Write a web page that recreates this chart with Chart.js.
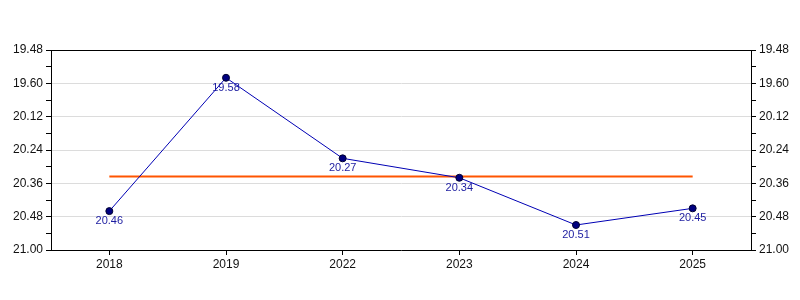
<!DOCTYPE html>
<html>
<head>
<meta charset="utf-8">
<script src="https://cdn.jsdelivr.net/npm/chart.js@4"></script>
<style>
html, body { margin: 0; padding: 0; background: #fff; }
</style>
</head>
<body>
<canvas id="chart" width="800" height="300"></canvas>
<script>
// Temps par année (format minutes.secondes)
var annees = ['2018', '2019', '2022', '2023', '2024', '2025'];
var temps = ['20.46', '19.58', '20.27', '20.34', '20.51', '20.45'];
var ticksY = ['19.48', '19.60', '20.12', '20.24', '20.36', '20.48', '21.00'];

function enSecondes(t) {
  var p = t.split('.');
  return parseInt(p[0], 10) * 60 + parseInt(p[1], 10);
}

var secondes = temps.map(enSecondes);
var moyenne = secondes.reduce(function (a, b) { return a + b; }, 0) / secondes.length;
var ligneMoyenne = secondes.map(function () { return moyenne; });
var minY = enSecondes(ticksY[0]);
var maxY = enSecondes(ticksY[ticksY.length - 1]);
var pasMajeur = (maxY - minY) / (ticksY.length - 1);

var police = '"Liberation Sans", Arial, sans-serif';

function rangMajeur(v) {
  var r = (v - minY) / pasMajeur;
  return Math.abs(r - Math.round(r)) < 1e-6 ? Math.round(r) : -1;
}

// étiquettes de valeur sous les points
var etiquettes = {
  id: 'etiquettes',
  afterDatasetsDraw: function (chart) {
    var meta = chart.getDatasetMeta(0);
    var c = chart.ctx;
    c.save();
    c.font = '11px ' + police;
    c.fillStyle = '#1c1ca0';
    c.textAlign = 'center';
    c.textBaseline = 'middle';
    meta.data.forEach(function (pt, i) {
      c.fillText(temps[i], pt.x, pt.y + 10);
    });
    c.restore();
  }
};

// bord supérieur noir de la zone du graphique
var cadre = {
  id: 'cadre',
  afterDraw: function (chart) {
    var a = chart.chartArea;
    var c = chart.ctx;
    c.save();
    c.strokeStyle = '#000';
    c.lineWidth = 1;
    c.beginPath();
    c.moveTo(a.left, Math.round(a.top) + 0.5);
    c.lineTo(a.right, Math.round(a.top) + 0.5);
    c.stroke();
    c.restore();
  }
};

function axeY(position, grille) {
  return {
    type: 'linear',
    position: position,
    reverse: true,
    min: minY,
    max: maxY,
    afterFit: function (scale) { scale.width = position === 'left' ? 51 : 49; },
    border: { display: true, color: '#000', width: 1 },
    grid: {
      drawOnChartArea: grille,
      color: function (ctx) {
        return ctx.tick && rangMajeur(ctx.tick.value) >= 0 ? '#dcdcdc' : 'rgba(0,0,0,0)';
      },
      tickColor: '#000',
      tickLength: 5
    },
    ticks: {
      stepSize: pasMajeur / 2,
      autoSkip: false,
      padding: 3,
      color: '#111',
      font: { family: police, size: 12 },
      callback: function (v) {
        var r = rangMajeur(v);
        return r >= 0 ? ticksY[r] : '';
      }
    }
  };
}

var ctx = document.getElementById('chart').getContext('2d');
new Chart(ctx, {
  type: 'line',
  data: {
    labels: annees,
    datasets: [{
      data: secondes,
      borderColor: '#0000b4',
      borderWidth: 1,
      pointBackgroundColor: '#000080',
      pointBorderColor: '#000030',
      pointBorderWidth: 1,
      pointRadius: 3.5,
      tension: 0,
      order: 1
    }, {
      data: ligneMoyenne,
      borderColor: '#ff5500',
      borderWidth: 2,
      pointRadius: 0,
      order: 2
    }]
  },
  options: {
    responsive: false,
    animation: false,
    devicePixelRatio: 1,
    layout: { padding: { top: 50 } },
    plugins: {
      legend: { display: false },
      tooltip: { enabled: false }
    },
    scales: {
      x: {
        offset: true,
        afterFit: function (scale) { scale.height = 50; },
        border: { display: true, color: '#000', width: 1 },
        grid: { drawOnChartArea: false, tickColor: '#000', tickLength: 5, offset: false },
        ticks: { color: '#111', padding: 2, font: { family: police, size: 12 } }
      },
      y: axeY('left', true),
      y2: axeY('right', false)
    }
  },
  plugins: [etiquettes, cadre]
});
</script>
</body>
</html>
